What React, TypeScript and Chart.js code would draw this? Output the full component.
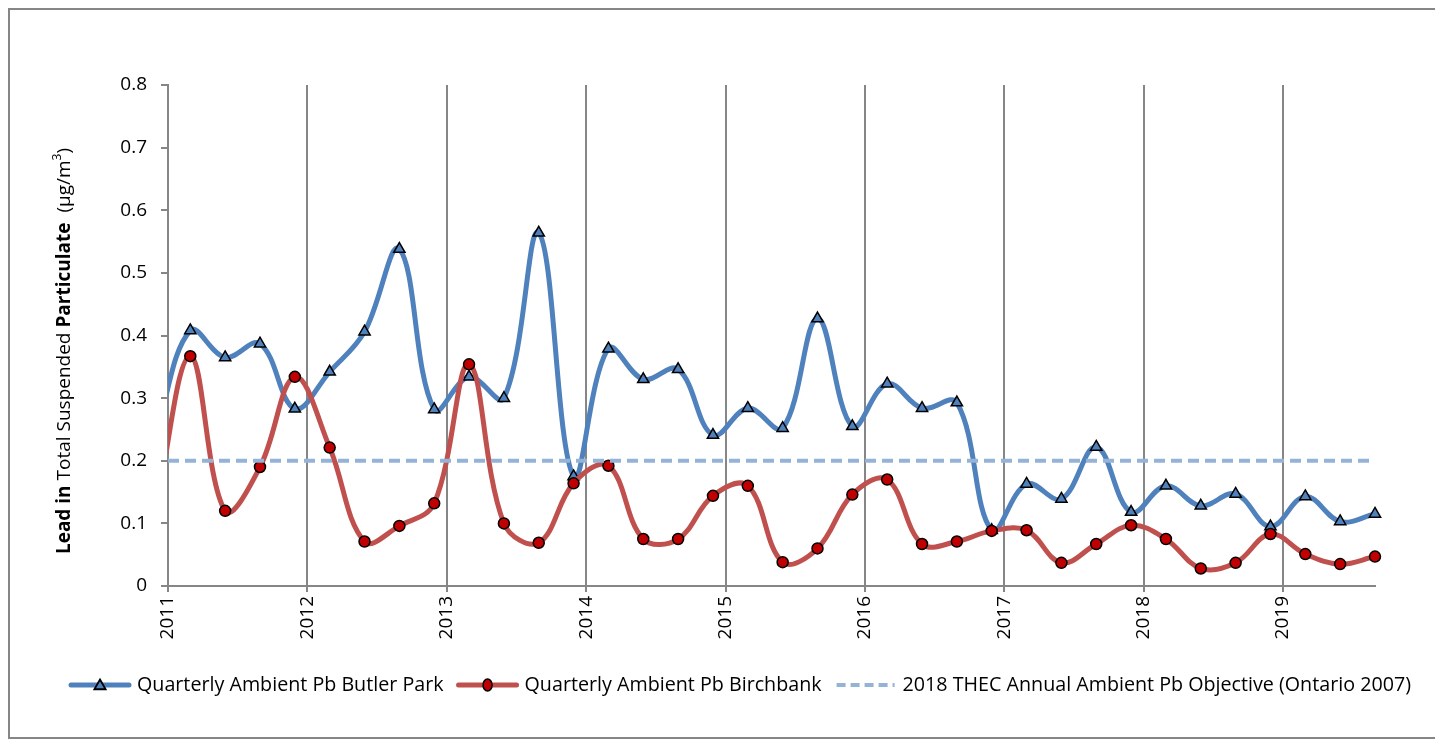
import React, { useEffect, useRef } from "react";
import { Chart, registerables } from "chart.js";

Chart.register(...registerables);

// ---- Data ----
// Quarterly sample dates as decimal years (first one lies just before the axis start and is clipped)
const sampleYears = [
  2010.91,
  2011.16, 2011.41, 2011.66, 2011.91,
  2012.16, 2012.41, 2012.66, 2012.91,
  2013.16, 2013.41, 2013.66, 2013.91,
  2014.16, 2014.41, 2014.66, 2014.91,
  2015.16, 2015.41, 2015.66, 2015.91,
  2016.16, 2016.41, 2016.66, 2016.91,
  2017.16, 2017.41, 2017.66, 2017.91,
  2018.16, 2018.41, 2018.66, 2018.91,
  2019.16, 2019.41, 2019.66,
];

const butlerPark = [
  0.24,
  0.408, 0.365, 0.387, 0.283,
  0.342, 0.406, 0.538, 0.282,
  0.334, 0.300, 0.564, 0.175,
  0.379, 0.330, 0.346, 0.241,
  0.284, 0.252, 0.427, 0.255,
  0.323, 0.284, 0.293, 0.089,
  0.163, 0.139, 0.222, 0.118,
  0.160, 0.128, 0.147, 0.095,
  0.143, 0.103, 0.115,
];

const birchbank = [
  0.12,
  0.367, 0.120, 0.190, 0.334,
  0.221, 0.071, 0.096, 0.132,
  0.354, 0.100, 0.069, 0.164,
  0.192, 0.075, 0.075, 0.144,
  0.160, 0.038, 0.060, 0.146,
  0.170, 0.067, 0.071, 0.088,
  0.089, 0.037, 0.067, 0.097,
  0.075, 0.028, 0.037, 0.083,
  0.051, 0.035, 0.047,
];

const objectiveValue = 0.2;
const xStart = 2011;
const xEnd = 2019.66;
const yMin = 0;
const yMax = 0.8;
const yStep = 0.1;

const seriesNames = [
  "Quarterly Ambient Pb Butler Park",
  "Quarterly Ambient Pb Birchbank",
  "2018 THEC Annual Ambient Pb Objective (Ontario 2007)",
];

const yTitleParts = [
  { text: "Lead in ", bold: true },
  { text: "Total Suspended ", bold: false },
  { text: "Particulate", bold: true },
  { text: "  (\u00b5g/m", bold: false },
  { text: "3", bold: false, sup: true },
  { text: ")", bold: false },
];

// ---- Styles ----
const FONT = '"Open Sans", "DejaVu Sans", sans-serif';
const BLUE = "#4F81BD";
const RED = "#C0504D";
const RED_MARK = "#C00000";
const DASH_BLUE = "#95B3D7";
const AXIS_GRAY = "#868686";

const CANVAS_W = 1429;
const CANVAS_H = 727;

function drawTriangle(ctx: CanvasRenderingContext2D, x: number, y: number, r: number) {
  ctx.beginPath();
  for (let i = 0; i < 3; i++) {
    const a = (i * 2 * Math.PI) / 3;
    const px = x + Math.sin(a) * r;
    const py = y - Math.cos(a) * r;
    if (i === 0) ctx.moveTo(px, py);
    else ctx.lineTo(px, py);
  }
  ctx.closePath();
}

const yTitlePlugin = {
  id: "yTitleMixed",
  afterDraw(chart: any) {
    const ctx: CanvasRenderingContext2D = chart.ctx;
    const size = 19;
    const fontFor = (p: any) =>
      `${p.bold ? "bold " : ""}${p.sup ? Math.round(size * 0.65) : size}px ${FONT}`;
    ctx.save();
    let total = 0;
    for (const p of yTitleParts) {
      ctx.font = fontFor(p);
      total += ctx.measureText(p.text).width;
    }
    const cx = 60;
    const cy = 341;
    ctx.translate(cx, cy);
    ctx.rotate(-Math.PI / 2);
    ctx.fillStyle = "#000";
    ctx.textBaseline = "alphabetic";
    ctx.textAlign = "left";
    let x = -total / 2;
    for (const p of yTitleParts) {
      ctx.font = fontFor(p);
      ctx.fillText(p.text, x, p.sup ? -size * 0.45 : 0);
      x += ctx.measureText(p.text).width;
    }
    ctx.restore();
  },
};

const legendPlugin = {
  id: "customLegend",
  afterDraw(chart: any) {
    const ctx: CanvasRenderingContext2D = chart.ctx;
    const size = 19.7;
    const sampleW = 62;
    const textGap = 6;
    const itemGap = 13;
    const y = 675;
    ctx.save();
    ctx.font = `${size}px ${FONT}`;
    ctx.textBaseline = "middle";
    ctx.fillStyle = "#000";
    let x = 59;
    seriesNames.forEach((name, i) => {
      ctx.save();
      ctx.beginPath();
      ctx.moveTo(x + 2, y);
      ctx.lineTo(x + sampleW - 2, y);
      if (i === 0) {
        ctx.strokeStyle = BLUE;
        ctx.lineWidth = 5;
        ctx.lineCap = "round";
      } else if (i === 1) {
        ctx.strokeStyle = RED;
        ctx.lineWidth = 5;
        ctx.lineCap = "round";
      } else {
        ctx.strokeStyle = DASH_BLUE;
        ctx.lineWidth = 4;
        ctx.setLineDash([9, 5]);
      }
      ctx.stroke();
      ctx.setLineDash([]);
      const mx = x + sampleW / 2;
      if (i === 0) {
        drawTriangle(ctx, mx, y + 1, 6.5);
        ctx.fillStyle = BLUE;
        ctx.fill();
        ctx.lineWidth = 1.8;
        ctx.strokeStyle = "#000";
        ctx.stroke();
      } else if (i === 1) {
        ctx.beginPath();
        ctx.ellipse(mx, y, 4.5, 6, 0, 0, Math.PI * 2);
        ctx.fillStyle = RED_MARK;
        ctx.fill();
        ctx.lineWidth = 1.5;
        ctx.strokeStyle = "#000";
        ctx.stroke();
      }
      ctx.restore();
      x += sampleW + textGap;
      ctx.fillStyle = "#000";
      ctx.fillText(name, x, y);
      x += ctx.measureText(name).width + itemGap;
    });
    ctx.restore();
  },
};

export default function App() {
  const canvasRef = useRef<HTMLCanvasElement | null>(null);

  useEffect(() => {
    if (!canvasRef.current) return;
    const toPoints = (vals: number[]) => vals.map((v, i) => ({ x: sampleYears[i], y: v }));

    const chart = new Chart(canvasRef.current, {
      type: "line",
      data: {
        datasets: [
          {
            label: seriesNames[2],
            data: [
              { x: xStart, y: objectiveValue },
              { x: xEnd, y: objectiveValue },
            ],
            borderColor: DASH_BLUE,
            borderWidth: 4,
            borderDash: [11, 6],
            pointRadius: 0,
            tension: 0,
            order: 0,
          },
          {
            label: seriesNames[1],
            data: toPoints(birchbank),
            borderColor: RED,
            borderWidth: 5,
            backgroundColor: RED_MARK,
            pointBackgroundColor: RED_MARK,
            pointBorderColor: "#000",
            pointBorderWidth: 1.5,
            pointRadius: 5.5,
            pointStyle: "circle",
            tension: 0.38,
            clip: { left: 0, top: 10, right: 10, bottom: 10 } as any,
            order: 1,
          },
          {
            label: seriesNames[0],
            data: toPoints(butlerPark),
            borderColor: BLUE,
            borderWidth: 5,
            backgroundColor: BLUE,
            pointBackgroundColor: BLUE,
            pointBorderColor: "#000",
            pointBorderWidth: 1.5,
            pointRadius: 6.5,
            pointStyle: "triangle",
            tension: 0.38,
            clip: { left: 0, top: 10, right: 10, bottom: 10 } as any,
            order: 2,
          },
        ],
      },
      options: {
        responsive: false,
        animation: false,
        events: [],
        layout: { padding: { top: 75, right: 64, left: 0, bottom: 0 } },
        plugins: {
          legend: { display: false },
          tooltip: { enabled: false },
          title: { display: false },
        },
        scales: {
          x: {
            type: "linear",
            min: xStart,
            max: xEnd,
            ticks: {
              stepSize: 1,
              includeBounds: false,
              autoSkip: false,
              minRotation: 90,
              maxRotation: 90,
              padding: 4,
              color: "#000",
              font: { family: FONT, size: 19 },
              callback: (v: any) => String(Math.round(Number(v))),
            },
            grid: {
              color: AXIS_GRAY,
              lineWidth: 2,
              tickLength: 6,
              drawOnChartArea: true,
            },
            border: { color: AXIS_GRAY, width: 2 },
            afterFit: (s: any) => {
              s.height = 151;
            },
          },
          y: {
            type: "linear",
            min: yMin,
            max: yMax,
            ticks: {
              stepSize: yStep,
              padding: 14,
              color: "#000",
              font: { family: FONT, size: 19 },
              callback: (v: any) => (Number(v) === 0 ? "0" : Number(v).toFixed(1)),
            },
            grid: {
              drawOnChartArea: false,
              color: AXIS_GRAY,
              lineWidth: 2,
              tickLength: 7,
            },
            border: { color: AXIS_GRAY, width: 2 },
            afterFit: (s: any) => {
              s.width = 158;
            },
          },
        },
      },
      plugins: [yTitlePlugin, legendPlugin],
    });

    return () => chart.destroy();
  }, []);

  return (
    <div
      style={{
        width: 1433,
        height: 731,
        boxSizing: "border-box",
        border: `2px solid ${AXIS_GRAY}`,
        background: "#fff",
      }}
    >
      <canvas
        ref={canvasRef}
        width={CANVAS_W}
        height={CANVAS_H}
        style={{ display: "block", width: CANVAS_W, height: CANVAS_H }}
      />
    </div>
  );
}
